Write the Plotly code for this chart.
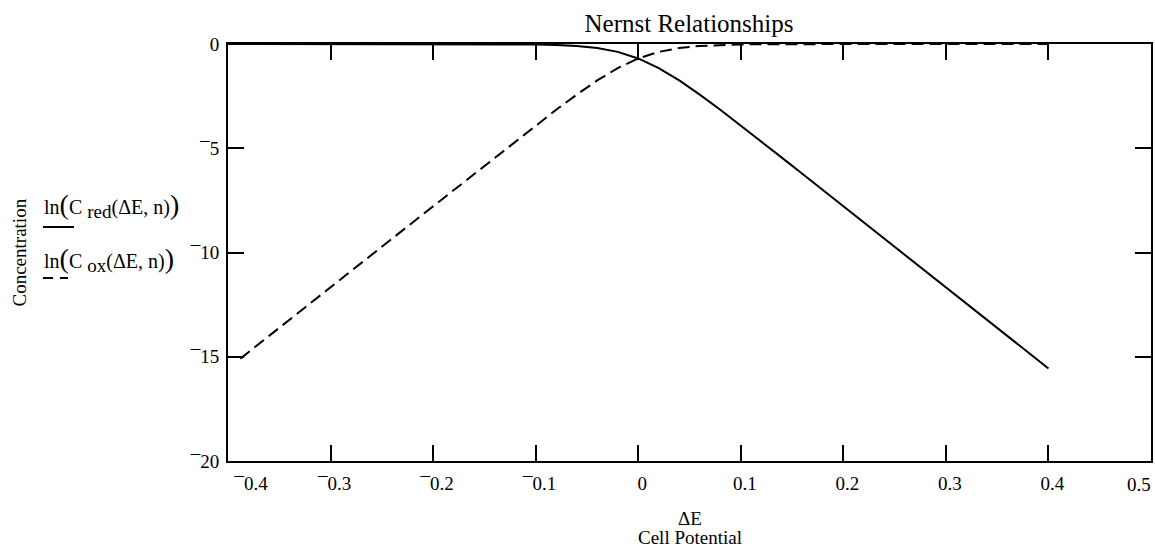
import plotly.graph_objects as go

# ---- data ----
dE_red = [-0.40, -0.38, -0.36, -0.34, -0.32, -0.30, -0.28, -0.26, -0.24, -0.22, -0.20,
          -0.18, -0.16, -0.14, -0.12, -0.10, -0.08, -0.06, -0.04, -0.02, 0.00,
          0.02, 0.04, 0.06, 0.08, 0.10, 0.12, 0.14, 0.16, 0.18, 0.20,
          0.22, 0.24, 0.26, 0.28, 0.30, 0.32, 0.34, 0.36, 0.38, 0.40]
ln_c_red = [0.0, 0.0, 0.0, 0.0, 0.0, 0.0, 0.0, 0.0, 0.0, 0.0, 0.0,
            0.0, -0.002, -0.004, -0.009, -0.020, -0.044, -0.093, -0.192, -0.378, -0.693,
            -1.156, -1.748, -2.427, -3.156, -3.910, -4.677, -5.450, -6.226, -7.003, -7.780,
            -8.558, -9.336, -10.114, -10.892, -11.670, -12.448, -13.226, -14.004, -14.782, -15.560]

dE_ox = [-0.388, -0.38, -0.36, -0.34, -0.32, -0.30, -0.28, -0.26, -0.24, -0.22, -0.20,
         -0.18, -0.16, -0.14, -0.12, -0.10, -0.08, -0.06, -0.04, -0.02, 0.00,
         0.02, 0.04, 0.06, 0.08, 0.10, 0.12, 0.14, 0.16, 0.18, 0.20,
         0.22, 0.24, 0.26, 0.28, 0.30, 0.32, 0.34, 0.36, 0.38, 0.40]
ln_c_ox = [-15.09, -14.782, -14.004, -13.226, -12.448, -11.670, -10.892, -10.114, -9.336, -8.558, -7.780,
           -7.003, -6.226, -5.450, -4.677, -3.910, -3.156, -2.427, -1.748, -1.156, -0.693,
           -0.378, -0.192, -0.093, -0.044, -0.020, -0.009, -0.004, -0.002, 0.0, 0.0,
           0.0, 0.0, 0.0, 0.0, 0.0, 0.0, 0.0, 0.0, 0.0, 0.0]

x_tick_vals = [-0.4, -0.3, -0.2, -0.1, 0.0, 0.1, 0.2, 0.3, 0.4, 0.5]
x_tick_text = ["\u00a0" * 8 + "\u00af0.4", "\u00af0.3", "\u00af0.2", "\u00af0.1", "0",
               "0.1", "0.2", "0.3", "0.4", ""]
x_last_label = "0.5"
y_tick_vals = [0, -5, -10, -15, -20]
y_tick_text = ["0", "\u00af5", "\u00af10", "\u00af15", "\u00af20"]

FONT = "Liberation Serif, Times New Roman, serif"

fig = go.Figure()
fig.add_trace(go.Scatter(x=dE_red, y=ln_c_red, mode="lines",
                         line=dict(color="black", width=2), hoverinfo="skip"))
fig.add_trace(go.Scatter(x=dE_ox, y=ln_c_ox, mode="lines",
                         line=dict(color="black", width=2, dash="12px,6px"), hoverinfo="skip"))

axis_common = dict(showline=True, linewidth=2, linecolor="black", mirror="allticks",
                   ticks="inside", ticklen=16, tickwidth=2, tickcolor="black",
                   showgrid=False, zeroline=False, automargin=False,
                   ticklabeloverflow="allow",
                   tickfont=dict(size=19, color="black", family=FONT))

fig.update_xaxes(range=[-0.4, 0.5], tickmode="array", tickvals=x_tick_vals, ticktext=x_tick_text,
                 ticklabelstandoff=4, ticklabelshift=4, **axis_common)
fig.update_yaxes(range=[-20, 0], tickmode="array", tickvals=y_tick_vals, ticktext=y_tick_text,
                 ticklabelstandoff=3, **axis_common)

W_PLOT = 923.0
H_PLOT = 417.0
L = 228
T = 44


def px(xp):
    return (xp - L) / W_PLOT


def py(yp):
    return (T + H_PLOT - yp) / H_PLOT


BIG = "<span style='font-size:28px'>%s</span>"

annotations = [
    dict(text=x_last_label, x=x_tick_vals[-1], xref="x", y=py(484), yref="paper",
         xanchor="right", xshift=2, yanchor="middle", showarrow=False,
         font=dict(size=19)),
    dict(text="Concentration", textangle=-90, x=px(19), y=0.5, xref="paper", yref="paper",
         xanchor="center", yanchor="middle", showarrow=False, font=dict(size=19)),
    dict(text="\u0394E", x=0.5, y=py(518), xref="paper", yref="paper",
         xanchor="center", yanchor="middle", showarrow=False, font=dict(size=19)),
    dict(text="Cell Potential", x=0.5, y=py(537), xref="paper", yref="paper",
         xanchor="center", yanchor="middle", showarrow=False, font=dict(size=19)),
    dict(text="ln" + BIG % "(" + "C <sub><span style='font-size:19px'>red</span></sub>(\u0394E,\u00a0n)" + BIG % ")",
         x=px(42), y=py(205), xref="paper", yref="paper",
         xanchor="left", yanchor="middle", showarrow=False, font=dict(size=20)),
    dict(text="ln" + BIG % "(" + "C <sub><span style='font-size:19px'>ox</span></sub>(\u0394E,\u00a0n)" + BIG % ")",
         x=px(42), y=py(259), xref="paper", yref="paper",
         xanchor="left", yanchor="middle", showarrow=False, font=dict(size=20)),
]

shapes = [
    dict(type="line", xref="paper", yref="paper", x0=px(43), x1=px(74), y0=py(227), y1=py(227),
         line=dict(color="black", width=2)),
    dict(type="line", xref="paper", yref="paper", x0=px(43), x1=px(68), y0=py(278), y1=py(278),
         line=dict(color="black", width=2, dash="10px,7px")),
]

fig.update_layout(
    width=1155, height=547,
    margin=dict(l=228, r=4, t=44, b=86, autoexpand=False),
    paper_bgcolor="white", plot_bgcolor="white",
    font=dict(family=FONT, color="black", size=19),
    showlegend=False,
    title=dict(text="Nernst Relationships", x=px(689), xref="paper", xanchor="center",
               y=1 - 23 / 547, yref="container", yanchor="middle",
               font=dict(size=25, family=FONT, color="black")),
    annotations=annotations,
    shapes=shapes,
)

fig.write_html("out.html", config={"displayModeBar": False},
               post_script="document.body.style.margin='0';document.body.style.overflow='hidden';")
